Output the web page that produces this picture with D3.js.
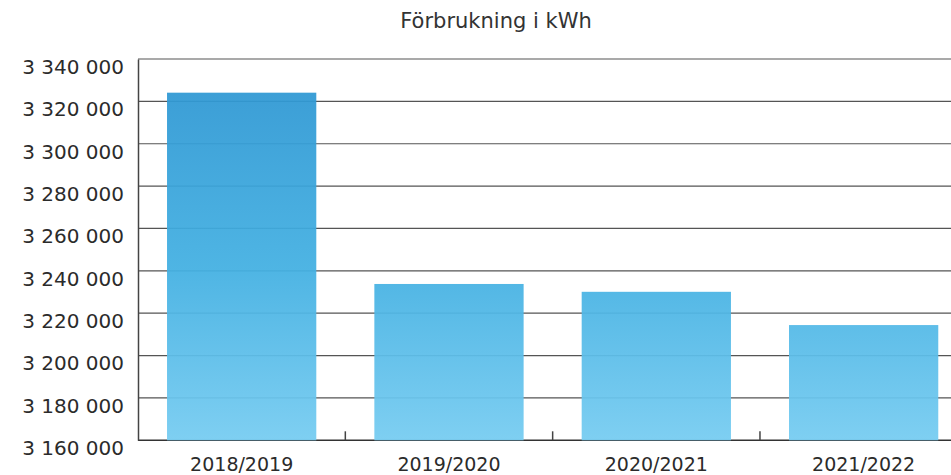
<!DOCTYPE html>
<html>
<head>
<meta charset="utf-8">
<script src="https://cdn.jsdelivr.net/npm/d3@7"></script>
<style>
  body { margin: 0; background: #fff; }
  svg { display: block; font-family: "DejaVu Sans", sans-serif; }
</style>
</head>
<body>
<svg id="chart"></svg>
<script>
// data
const seasons = ["2018/2019", "2019/2020", "2020/2021", "2021/2022"]
const kwh = [3324100, 3233800, 3230100, 3214400]
const yTicks = [3160000, 3180000, 3200000, 3220000, 3240000, 3260000, 3280000, 3300000, 3320000, 3340000]
const chartTitle = "Förbrukning i kWh"

const width = 951, height = 475
const svg = d3.select("#chart").attr("width", width).attr("height", height)

// plot area, the x band runs past the right edge like the original
const plotLeft = 138, plotTop = 59, plotBottom = 440.3

const x = d3.scaleBand()
  .domain(seasons)
  .range([plotLeft, 967.3])
  .paddingInner(0.28)
  .paddingOuter(0.14)

const y = d3.scaleLinear()
  .domain([3160000, 3340000])
  .range([plotBottom, plotTop])

// numbers with space as thousands separator
const fmt = d => d3.format(",")(d).replace(/,/g, " ")

// gradient in page coordinates so all bars share the same shading
const grad = svg.append("defs").append("linearGradient")
  .attr("id", "barGrad")
  .attr("gradientUnits", "userSpaceOnUse")
  .attr("x1", 0).attr("x2", 0)
  .attr("y1", plotTop).attr("y2", plotBottom)
grad.append("stop").attr("offset", "0%").attr("stop-color", "#2c94d1")
grad.append("stop").attr("offset", "55%").attr("stop-color", "#43b0e2")
grad.append("stop").attr("offset", "100%").attr("stop-color", "#76ccf1")

// gridlines
svg.append("g")
  .selectAll("line")
  .data(yTicks)
  .enter().append("line")
    .attr("x1", plotLeft).attr("x2", width)
    .attr("y1", d => y(d)).attr("y2", d => y(d))
    .attr("stroke", d => d === 3160000 ? "#333" : "#555")
    .attr("stroke-width", d => d === 3160000 ? 1.5 : 1.2)

// bars (slightly see-through so the gridlines show)
svg.append("g")
  .selectAll("rect")
  .data(kwh)
  .enter().append("rect")
    .attr("x", (d, i) => x(seasons[i]))
    .attr("y", d => y(d))
    .attr("width", x.bandwidth())
    .attr("height", d => plotBottom - y(d))
    .attr("fill", "url(#barGrad)")
    .attr("opacity", 0.94)

// y axis, labels hang just below their gridline
const yAxis = svg.append("g")
  .attr("transform", `translate(${plotLeft},0)`)
  .call(d3.axisLeft(y).tickValues(yTicks).tickFormat(fmt).tickSize(0).tickPadding(14))
yAxis.select(".domain").attr("stroke", "#444").attr("stroke-width", 1.5)
yAxis.selectAll("text")
  .attr("dy", "0.72em")
  .attr("font-size", 20)
  .attr("fill", "#2b2b2b")
  .attr("font-family", "DejaVu Sans, sans-serif")

// x axis: small ticks between the categories
const xAxis = svg.append("g")
  .attr("transform", `translate(0,${plotBottom})`)
  .call(d3.axisBottom(x).tickSize(0).tickPadding(17))
xAxis.select(".domain").remove()
xAxis.selectAll("text")
  .attr("font-size", 19)
  .attr("fill", "#2b2b2b")
  .attr("font-family", "DejaVu Sans, sans-serif")

svg.append("g")
  .selectAll("line")
  .data(seasons.slice(1))
  .enter().append("line")
    .attr("x1", d => x(d) - x.step() * x.paddingInner() / 2)
    .attr("x2", d => x(d) - x.step() * x.paddingInner() / 2)
    .attr("y1", plotBottom).attr("y2", plotBottom - 9)
    .attr("stroke", "#444")
    .attr("stroke-width", 1.5)

// title
svg.append("text")
  .attr("x", 496)
  .attr("y", 28)
  .attr("text-anchor", "middle")
  .attr("font-size", 21)
  .attr("fill", "#333")
  .text(chartTitle)
</script>
</body>
</html>
